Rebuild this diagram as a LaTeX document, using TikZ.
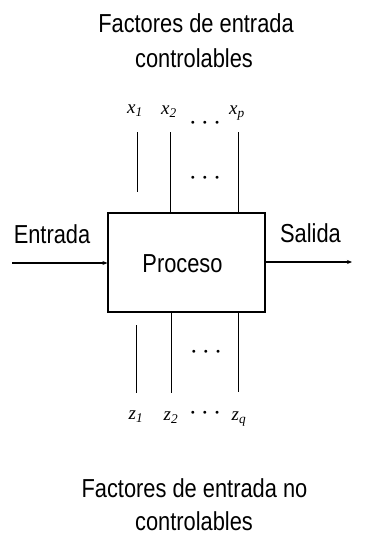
\documentclass[tikz,border=0pt]{standalone}
\usepackage{fontspec}
\setmainfont{Liberation Sans}
\newfontfamily\condfont[FakeStretch=0.84]{Liberation Sans}
\newfontfamily\varfont{Liberation Serif}
\usetikzlibrary{arrows.meta}
\newcommand{\tripledot}{$\bullet$\hspace{8pt}$\bullet$\hspace{8pt}$\bullet$}
\newcommand{\fvar}[2]{\textit{#1}\textsubscript{\textit{#2}}}
\begin{document}
\begin{tikzpicture}[x=1pt,y=-1pt,
  lbl/.style={font=\condfont\fontsize{26}{28}\selectfont, inner sep=0pt, anchor=base},
  var/.style={font=\varfont\fontsize{19}{21}\selectfont, inner sep=0pt},
  dots/.style={font=\fontsize{7.5}{8}\selectfont, inner sep=0pt},
  wire/.style={line width=0.8pt},
  flow/.style={line width=1.1pt, -{Stealth[length=5pt,width=4pt]}}]
\useasboundingbox (0,0) rectangle (372,535);
% process block
\node[draw, line width=1.2pt, minimum width=157pt, minimum height=99pt, inner sep=0pt] (proc) at (186.5,262.5) {};
\node[lbl] (ptext) at (182.5,272) {Proceso};
% headings
\node[lbl] (top1) at (196,33) {Factores de entrada};
\node[lbl] (top2) at (194,67) {controlables};
\node[lbl] (bot1) at (194.5,497) {Factores de entrada no};
\node[lbl] (bot2) at (194,530) {controlables};
% input and output
\node[lbl] (in) at (52,243) {Entrada};
\node[lbl] (out) at (310.5,242) {Salida};
\coordinate (inS) at (12,263);
\coordinate (outE) at (352,262);
\draw[flow] (inS) -- (proc.west |- inS);
\draw[flow] (proc.east |- outE) -- (outE);
% controllable factors
\node[var] (x1) at (135,111) {\fvar{x}{1}};
\node[var] (x2) at (169,112) {\fvar{x}{2}};
\node[dots] (xd) at (205,123) {\tripledot};
\node[var] (xp) at (237,113) {\fvar{x}{p}};
\draw[wire] (137,132) coordinate (x1s) -- (137,192) coordinate (x1e);
\draw[wire] (170,132) coordinate (x2s) -- (x2s |- proc.north);
\draw[wire] (238,132) coordinate (xps) -- (xps |- proc.north);
\node[dots] (xm) at (205,178) {\tripledot};
% uncontrollable factors
\node[var] (z1) at (136,417) {\fvar{z}{1}};
\node[var] (z2) at (171,418) {\fvar{z}{2}};
\node[dots] (zd) at (205,413) {\tripledot};
\node[var] (zq) at (239,419) {\fvar{z}{q}};
\draw[wire] (136,325) coordinate (z1s) -- (136,393) coordinate (z1e);
\draw[wire] (proc.south -| 171,0) -- (171,393) coordinate (z2e);
\draw[wire] (proc.south -| 238,0) -- (238,392) coordinate (zqe);
\node[dots] (zm) at (206,352) {\tripledot};
\end{tikzpicture}
\end{document}
